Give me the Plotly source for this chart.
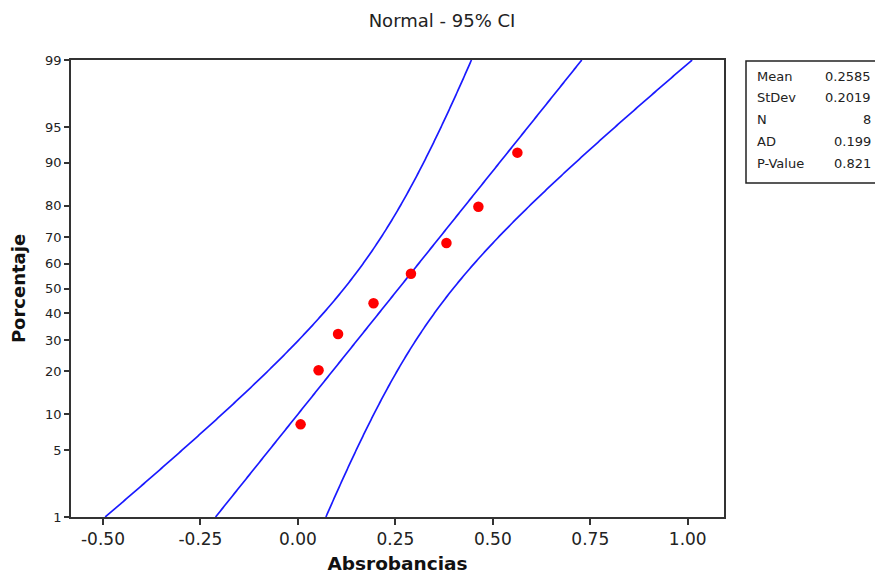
import plotly.graph_objects as go
from statistics import NormalDist
import math

# ---- data ----
absorbancias = [0.007, 0.053, 0.103, 0.194, 0.290, 0.381, 0.463, 0.563]
stat_labels = ["Mean", "StDev", "N", "AD", "P-Value"]
stat_values = ["0.2585", "0.2019", "8", "0.199", "0.821"]
mean_val = 0.2585
sd_val = 0.2019
n_val = 8
pct_ticks = [1, 5, 10, 20, 30, 40, 50, 60, 70, 80, 90, 95, 99]
x_ticks = [-0.50, -0.25, 0.00, 0.25, 0.50, 0.75, 1.00]

nd = NormalDist()
# median-rank plotting positions (Minitab default)
pct_points = [(i - 0.3) / (n_val + 0.4) for i in range(1, n_val + 1)]
z_points = [nd.inv_cdf(p) for p in pct_points]

# fitted line and 95% CI bands
z_lo, z_hi = nd.inv_cdf(0.01), nd.inv_cdf(0.99)
zs = [z_lo + (z_hi - z_lo) * k / 300 for k in range(301)]
fit = [mean_val + sd_val * z for z in zs]
half = [1.96 * math.sqrt(sd_val**2 / n_val + z**2 * sd_val**2 / (2 * (n_val - 1))) for z in zs]
lower = [f - h for f, h in zip(fit, half)]
upper = [f + h for f, h in zip(fit, half)]

FONT = "DejaVu Sans"
BLUE = "#1a1aff"
TXT = "#222222"

fig = go.Figure()
for xs in (lower, fit, upper):
    fig.add_trace(go.Scatter(x=xs, y=zs, mode="lines",
                             line=dict(color=BLUE, width=1.7, simplify=False),
                             showlegend=False, hoverinfo="skip"))
fig.add_trace(go.Scatter(x=absorbancias, y=z_points, mode="markers",
                         marker=dict(color="#ff0000", size=10.5),
                         showlegend=False))

W, H = 875, 574
L, R, T, B = 71, 151, 60, 57
pw, ph = W - L - R, H - T - B

def px(xp):
    return (xp - L) / pw

def py(yp):
    return 1 - (yp - T) / ph

fig.update_layout(
    width=W, height=H,
    margin=dict(l=L, r=R, t=T, b=B, autoexpand=False),
    paper_bgcolor="white", plot_bgcolor="white",
    font=dict(family=FONT, size=13, color=TXT),
    title=dict(text="Normal - 95% CI", x=px(442), xref="paper", xanchor="center",
               y=1 - 21 / H, yanchor="middle",
               font=dict(family=FONT, size=18, color=TXT)),
    xaxis=dict(range=[-0.582, 1.093], tickvals=x_ticks, automargin=False,
               ticktext=[f"{v:.2f}" for v in x_ticks],
               ticks="outside", ticklen=6, tickcolor="#333333", tickwidth=1.5,
               showgrid=False, zeroline=False,
               showline=True, linecolor="#333333", linewidth=1.8, mirror=True,
               title=dict(text="<b>Absrobancias</b>", standoff=9,
                          font=dict(family=FONT, size=18.5, color="#111111")),
               tickfont=dict(family=FONT, size=17, color=TXT)),
    yaxis=dict(range=[z_lo, z_hi], tickvals=[nd.inv_cdf(p / 100) for p in pct_ticks],
               automargin=False,
               ticktext=[str(p) for p in pct_ticks],
               ticks="outside", ticklen=5, tickcolor="#333333", tickwidth=1.5,
               showgrid=False, zeroline=False,
               showline=True, linecolor="#333333", linewidth=1.8, mirror=True,
               title=dict(text="<b>Porcentaje</b>", standoff=15,
                          font=dict(family=FONT, size=18, color="#111111")),
               tickfont=dict(family=FONT, size=13, color=TXT)),
)

# statistics box
fig.add_shape(type="rect", xref="paper", yref="paper",
              x0=px(746), x1=px(910), y0=py(183), y1=py(61),
              line=dict(color="#222222", width=1.5), fillcolor="white")
row_y = [76.5, 98, 119.5, 141, 163]
for lab, val, yy in zip(stat_labels, stat_values, row_y):
    fig.add_annotation(text=lab, xref="paper", yref="paper", x=px(755), y=py(yy),
                       xanchor="left", yanchor="middle", showarrow=False,
                       font=dict(family=FONT, size=13, color=TXT))
    fig.add_annotation(text=val, xref="paper", yref="paper", x=px(873), y=py(yy),
                       xanchor="right", yanchor="middle", showarrow=False,
                       font=dict(family=FONT, size=13, color=TXT))

fig.write_html("out.html", config={"displayModeBar": False},
               post_script="document.body.style.margin='0';")
